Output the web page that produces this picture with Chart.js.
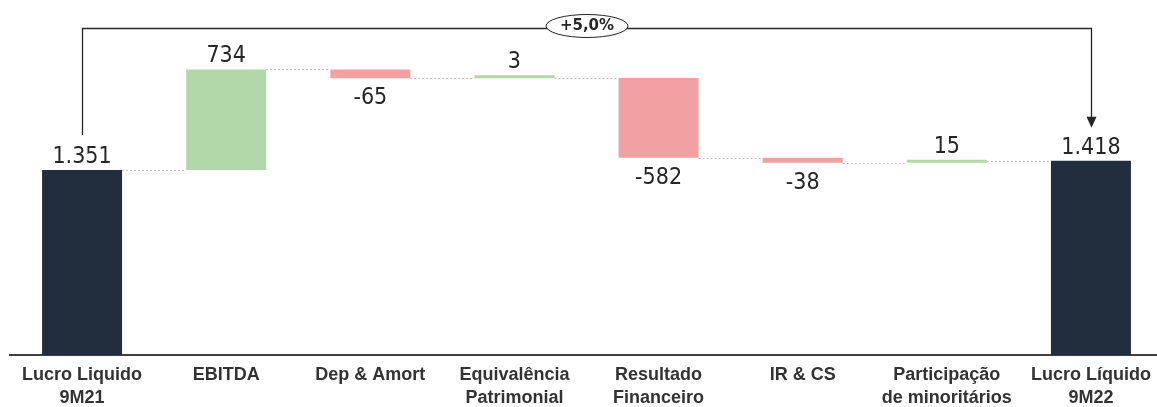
<!DOCTYPE html>
<html><head><meta charset="utf-8">
<script src="https://cdn.jsdelivr.net/npm/chart.js@4.4.1/dist/chart.umd.min.js"></script>
<style>
html,body{margin:0;padding:0;background:#fff;overflow:hidden;width:1157px;height:407px}
#wrap{position:relative;width:1165px;height:407px}
</style></head>
<body><div id="wrap"><canvas id="c" width="1165" height="407"></canvas></div>
<script>
const categories = [["Lucro Liquido","9M21"],["EBITDA"],["Dep & Amort"],["Equivalência","Patrimonial"],["Resultado","Financeiro"],["IR & CS"],["Participação","de minoritários"],["Lucro Líquido","9M22"]];
const values = [1351, 734, -65, 3, -582, -38, 15, 1418];
const kinds = ["total","delta","delta","delta","delta","delta","delta","total"];
const yMin = 0;
const yMax = 2592;

const colorTotal = "#222E3E", colorUp = "#B2D8A9", colorDown = "#F2A1A2";

let run = 0;
const ranges = values.map((v,i)=>{
  if (kinds[i]==='total'){ run = v; return [0, v]; }
  const s = run; run += v; return [s, run];
});
const barColors = values.map((v,i)=> kinds[i]==='total' ? colorTotal : (v>=0 ? colorUp : colorDown));

function fmt(v){
  const s = Math.abs(v).toString().replace(/\B(?=(\d{3})+(?!\d))/g,'.');
  return (v<0?'-':'') + s;
}
const first = values[0], last = values[values.length-1];
const pct = (last/first - 1)*100;
const pctLabel = (pct>=0?'+':'') + pct.toFixed(1).replace('.',',') + '%';

const decor = {
  id:'decor',
  afterDatasetsDraw(chart){
    const ctx = chart.ctx, meta = chart.getDatasetMeta(0), ys = chart.scales.y, area = chart.chartArea;
    const els = meta.data;
    // connectors
    ctx.save();
    ctx.strokeStyle = '#bdbdbd'; ctx.lineWidth = 1; ctx.setLineDash([2,2]);
    for (let i=0;i<els.length-1;i++){
      const a = els[i], b = els[i+1];
      const py = Math.round(ys.getPixelForValue(ranges[i][1])) + 0.5;
      ctx.beginPath(); ctx.moveTo(a.x + a.width/2, py); ctx.lineTo(b.x - b.width/2, py); ctx.stroke();
    }
    ctx.restore();
    // value labels
    ctx.save();
    ctx.fillStyle = '#262626';
    ctx.font = '23px "Liberation Sans Narrow", "DejaVu Sans Condensed", sans-serif';
    ctx.textAlign = 'center'; ctx.textBaseline = 'alphabetic';
    els.forEach((el,i)=>{
      const top = Math.min(el.y, el.base), bot = Math.max(el.y, el.base);
      if (values[i] >= 0) ctx.fillText(fmt(values[i]), el.x, top - 7);
      else ctx.fillText(fmt(values[i]), el.x, bot + 26);
    });
    ctx.restore();
    // bracket
    const e0 = els[0], e1 = els[els.length-1];
    const lineY = area.top + 28.5;
    const leftEnd = Math.min(e0.y, e0.base) - 35;
    const tipY = Math.min(e1.y, e1.base) - 33;
    const lx = Math.round(e0.x)+0.5, rx = Math.round(e1.x)+0.5;
    ctx.save();
    ctx.strokeStyle = '#262626'; ctx.fillStyle = '#262626'; ctx.lineWidth = 1.3;
    ctx.beginPath();
    ctx.moveTo(lx, leftEnd); ctx.lineTo(lx, lineY); ctx.lineTo(rx, lineY); ctx.lineTo(rx, tipY - 10);
    ctx.stroke();
    ctx.beginPath();
    ctx.moveTo(rx - 5, tipY - 11); ctx.lineTo(rx + 5, tipY - 11); ctx.lineTo(rx, tipY); ctx.closePath();
    ctx.fill();
    const mx = (lx + rx)/2;
    ctx.beginPath();
    ctx.ellipse(mx, lineY - 2.5, 41, 11.5, 0, 0, Math.PI*2);
    ctx.fillStyle = '#fff'; ctx.fill();
    ctx.lineWidth = 1; ctx.stroke();
    ctx.fillStyle = '#262626';
    ctx.font = 'bold 15px "DejaVu Sans", sans-serif';
    ctx.textAlign = 'center'; ctx.textBaseline = 'middle';
    ctx.fillText(pctLabel, mx, lineY - 2);
    ctx.restore();
  }
};

new Chart(document.getElementById('c'), {
  type: 'bar',
  data: {
    labels: categories,
    datasets: [{
      data: ranges,
      backgroundColor: barColors,
      borderWidth: 0,
      minBarLength: 3,
      categoryPercentage: 1,
      barPercentage: 0.555
    }]
  },
  options: {
    responsive: false,
    animation: false,
    layout: { padding: { left: 10, right: 2, top: 0, bottom: 0 } },
    plugins: { legend: { display: false }, tooltip: { enabled: false } },
    scales: {
      x: {
        grid: { display: false, drawTicks: false },
        border: { display: true, color: '#404040', width: 2 },
        ticks: {
          color: '#333',
          padding: 9,
          maxRotation: 0,
          autoSkip: false,
          font: { family: '"Liberation Sans", Arial, sans-serif', size: 18, weight: 'bold', lineHeight: 1.25 }
        },
        afterFit(scale){ scale.height = 52; }
      },
      y: { display: false, min: yMin, max: yMax }
    }
  },
  plugins: [decor]
});
</script>
</body></html>
